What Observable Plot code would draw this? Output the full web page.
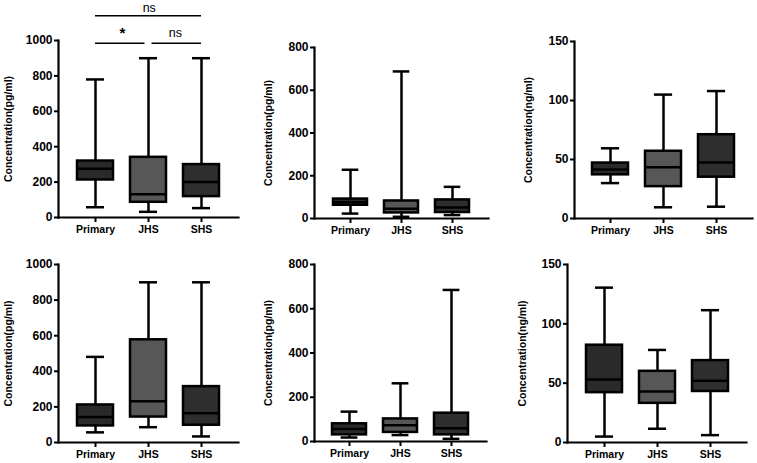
<!DOCTYPE html>
<html>
<head>
<meta charset="utf-8">
<script src="https://cdn.jsdelivr.net/npm/d3@7"></script>
<script src="https://cdn.jsdelivr.net/npm/@observablehq/plot@0.6"></script>
<style>
  body { margin: 0; background: #fff; }
  #figure { position: relative; width: 757px; height: 463px; overflow: hidden; background: #fff; }
  #figure > div { position: absolute; }
  #figure svg { background: transparent !important; color: #000; }
</style>
</head>
<body>
<div id="figure"></div>
<script>
// School groups and their box fills
const groups = ["Primary", "JHS", "SHS"];
const groupFills = ["#2a2a2a", "#575757", "#2e2e2e"];

// Five-number summaries per group, in order Primary, JHS, SHS: [min, Q1, median, Q3, max]
const statsTopLeft    = [[58, 212, 276, 319, 780], [32, 86, 131, 340, 900], [53, 118, 201, 299, 900]];
const statsTopMid     = [[23, 62, 76, 91, 228], [8, 26, 46, 82, 688], [16, 28, 51, 87, 148]];
const statsTopRight   = [[30, 37, 41.5, 47, 59.5], [9.5, 27, 43.5, 57, 105], [10, 35, 47.5, 71, 108]];
const statsBottomLeft  = [[57, 93, 143, 211, 481], [86, 143, 232, 577, 900], [34, 97, 164, 314, 900]];
const statsBottomMid   = [[18, 30, 56, 80, 135], [29, 41, 74, 102, 263], [12, 30, 60, 128, 685]];
const statsBottomRight = [[5, 42, 53, 82, 130.5], [11.6, 33, 43, 60, 78], [6.2, 43, 52, 69, 111.5]];

// Y tick values
const ticksPg1000 = [0, 200, 400, 600, 800, 1000];
const ticksPg800 = [0, 200, 400, 600, 800];
const ticksNg150 = [0, 50, 100, 150];

// Axis titles
const labelPg = "Concentration(pg/ml)";
const labelNg = "Concentration(ng/ml)";

// Pairwise comparisons shown above the first panel
const sigFrom = ["Primary", "JHS", "Primary"];
const sigTo = ["JHS", "SHS", "SHS"];
const sigText = ["*", "ns", "ns"];
const sigLineLevel = [985, 985, 1140];
const sigTextLevel = [1040, 1040, 1186];

const paddingInner = 0.33, paddingOuter = 0.34;

function boxPanel({stats, ticks, label, left, top, width, height, margin, labelOffset, comparisons}) {
  const rows = groups.map((g, i) => ({
    group: g, fill: groupFills[i],
    min: stats[i][0], q1: stats[i][1], med: stats[i][2], q3: stats[i][3], max: stats[i][4]
  }));
  const inner = width - margin.left - margin.right;
  const step = inner / (groups.length - paddingInner + 2 * paddingOuter);
  const bw = step * (1 - paddingInner);
  const lw = 2.5;

  const marks = [
    // whiskers and caps
    Plot.ruleX(rows, {x: "group", y1: "min", y2: "max", stroke: "#000", strokeWidth: lw}),
    Plot.tickY(rows, {x: "group", y: "min", stroke: "#000", strokeWidth: lw, insetLeft: bw / 4, insetRight: bw / 4}),
    Plot.tickY(rows, {x: "group", y: "max", stroke: "#000", strokeWidth: lw, insetLeft: bw / 4, insetRight: bw / 4}),
    // interquartile box and median
    Plot.barY(rows, {x: "group", y1: "q1", y2: "q3", fill: "fill", stroke: "#000", strokeWidth: lw}),
    Plot.tickY(rows, {x: "group", y: "med", stroke: "#000", strokeWidth: lw}),
    // axis lines
    Plot.frame({anchor: "left", stroke: "#000", strokeWidth: 2.2}),
    Plot.frame({anchor: "bottom", stroke: "#000", strokeWidth: 2.2}),
    Plot.axisY({ticks, tickFormat: d => String(d), tickSize: 4, tickPadding: 2, fontSize: 12, fontWeight: "bold",
      fill: "#000", stroke: "#000", strokeWidth: 2, label: null}),
    Plot.axisX({tickSize: 5, tickPadding: 3, fontSize: 10.5, fontWeight: "bold",
      fill: "#000", stroke: "#000", strokeWidth: 2, label: null}),
    Plot.text([label], {
      text: d => d, frameAnchor: "left", rotate: -90, dx: -labelOffset,
      textAnchor: "middle", lineAnchor: "middle", fontSize: 10.5, fontWeight: "bold", fill: "#000"
    })
  ];

  if (comparisons) {
    const gap = 3.5;
    const comps = sigFrom.map((f, i) => ({
      from: f, to: sigTo[i], text: sigText[i], y: sigLineLevel[i], ty: sigTextLevel[i],
      span: groups.indexOf(sigTo[i]) - groups.indexOf(f)
    }));
    for (const c of comps) {
      // leave a small gap where two brackets on the same level meet
      const shared = g => comps.some(o => o !== c && o.y === c.y && (o.from === g || o.to === g));
      marks.push(Plot.ruleY([c], {
        x1: "from", x2: "to", y: "y", stroke: "#000", strokeWidth: 1.5,
        insetLeft: bw / 2 + (shared(c.from) ? gap : 0),
        insetRight: bw / 2 + (shared(c.to) ? gap : 0)
      }));
      marks.push(Plot.text([c], {
        x: "from", y: "ty", text: "text", dx: c.span * step / 2,
        fontSize: c.text === "*" ? 15 : 12.5, fontWeight: c.text === "*" ? "bold" : "normal",
        fill: "#000", lineAnchor: "middle"
      }));
    }
  }

  const svg = Plot.plot({
    width, height,
    marginTop: margin.top, marginRight: margin.right, marginBottom: margin.bottom, marginLeft: margin.left,
    style: {fontFamily: "'Liberation Sans', Arial, sans-serif", color: "#000", background: "transparent"},
    x: {type: "band", domain: groups, paddingInner, paddingOuter},
    y: {domain: [0, ticks[ticks.length - 1]]},
    marks
  });
  const holder = document.createElement("div");
  holder.style.left = left + "px";
  holder.style.top = top + "px";
  holder.appendChild(svg);
  document.getElementById("figure").appendChild(holder);
}

boxPanel({stats: statsTopLeft, ticks: ticksPg1000, label: labelPg, left: 0, top: 0, width: 250, height: 240,
  margin: {top: 40, right: 12, bottom: 23, left: 58}, labelOffset: 50, comparisons: true});
boxPanel({stats: statsTopMid, ticks: ticksPg800, label: labelPg, left: 256, top: 0, width: 242, height: 240,
  margin: {top: 47, right: 10, bottom: 22, left: 58}, labelOffset: 46});
boxPanel({stats: statsTopRight, ticks: ticksNg150, label: labelNg, left: 516, top: 0, width: 241, height: 240,
  margin: {top: 41, right: 5, bottom: 22, left: 58}, labelOffset: 46});
boxPanel({stats: statsBottomLeft, ticks: ticksPg1000, label: labelPg, left: 0, top: 240, width: 250, height: 223,
  margin: {top: 24, right: 12, bottom: 21, left: 58}, labelOffset: 50});
boxPanel({stats: statsBottomMid, ticks: ticksPg800, label: labelPg, left: 256, top: 240, width: 242, height: 223,
  margin: {top: 24, right: 12, bottom: 22, left: 58}, labelOffset: 46});
boxPanel({stats: statsBottomRight, ticks: ticksNg150, label: labelNg, left: 509, top: 240, width: 248, height: 223,
  margin: {top: 24, right: 11, bottom: 21, left: 58}, labelOffset: 45});
</script>
</body>
</html>
